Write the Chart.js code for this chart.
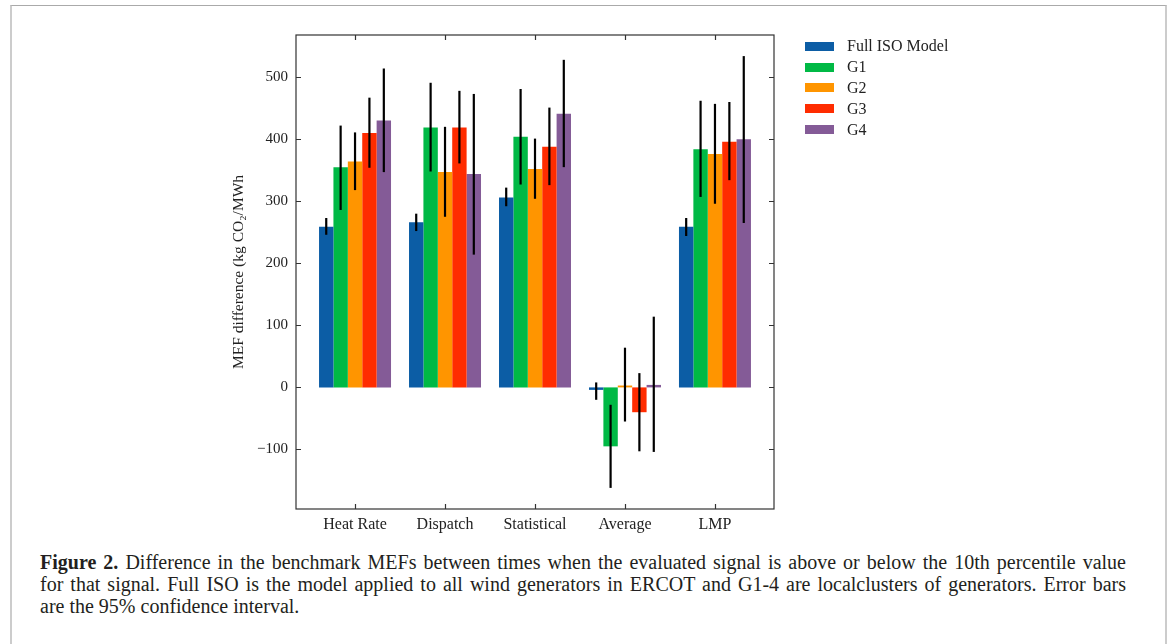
<!DOCTYPE html>
<html>
<head>
<meta charset="utf-8">
<script src="https://cdn.jsdelivr.net/npm/chart.js@4.4.1/dist/chart.umd.min.js"></script>
<style>
  html, body { margin: 0; padding: 0; background: #fff; }
  body { width: 1170px; height: 644px; position: relative; overflow: hidden; font-family: "Liberation Serif", serif; }
  .frame { position: absolute; left: 10px; top: 5px; width: 1153px; height: 700px;
           border-top: 1px solid #aaa; border-left: 2px solid #ccc; border-right: 2px solid #ccc; }
  #wrap { position: absolute; left: 0; top: 0; width: 1170px; height: 540px; }
  #legend { position: absolute; left: 805px; top: 36px; }
  .row { height: 20.8px; display: flex; align-items: center; font-size: 16px; color: #222; }
  .sw { width: 29px; height: 9px; margin-right: 13px; }
  #caption { position: absolute; left: 40px; top: 551px; width: 1086px; font-size: 20px; line-height: 22px; color: #231f20; }
  .j { text-align: justify; text-align-last: justify; }
</style>
</head>
<body>
<div class="frame"></div>
<div id="wrap"><canvas id="chart" width="1170" height="540"></canvas></div>
<div id="legend"></div>
<div id="caption">
  <div class="j"><b>Figure 2.</b> Difference in the benchmark MEFs between times when the evaluated signal is above or below the 10th percentile value</div>
  <div class="j">for that signal. Full ISO is the model applied to all wind generators in ERCOT and G1-4 are localclusters of generators. Error bars</div>
  <div>are the 95% confidence interval.</div>
</div>
<script>
'use strict';

// ── Data ─────────────────────────────────────────────────────────────────────
const categories   = ['Heat Rate', 'Dispatch', 'Statistical', 'Average', 'LMP'];
const seriesNames  = ['Full ISO Model', 'G1', 'G2', 'G3', 'G4'];
const seriesColors = ['#0C5DA5', '#00B945', '#FF9500', '#FF2C00', '#845B97'];

const fullIso   = [259, 266, 306,   -4, 259];
const fullIsoLo = [246, 252, 292,  -20, 244];
const fullIsoHi = [273, 280, 322,    8, 273];

const g1   = [355, 419, 404,  -95, 384];
const g1Lo = [286, 348, 327, -162, 307];
const g1Hi = [422, 491, 481,  -28, 462];

const g2   = [364, 347, 352,    3, 376];
const g2Lo = [318, 275, 304,  -55, 296];
const g2Hi = [411, 420, 401,   64, 457];

const g3   = [410, 419, 388,  -40, 396];
const g3Lo = [354, 361, 326, -103, 334];
const g3Hi = [467, 478, 451,   23, 460];

const g4   = [430, 344, 441,    4, 400];
const g4Lo = [347, 214, 355, -104, 265];
const g4Hi = [514, 473, 528,  114, 534];

const yTicks = [-100, 0, 100, 200, 300, 400, 500];

const values = [fullIso, g1, g2, g3, g4];
const lows   = [fullIsoLo, g1Lo, g2Lo, g3Lo, g4Lo];
const highs  = [fullIsoHi, g1Hi, g2Hi, g3Hi, g4Hi];

// ── Plugins ──────────────────────────────────────────────────────────────────
const errorBars = {
  id: 'errorBars',
  afterDatasetsDraw(chart) {
    const { ctx, scales: { y } } = chart;
    ctx.save();
    ctx.strokeStyle = '#000';
    ctx.lineWidth = 2.2;
    chart.data.datasets.forEach((ds, d) => {
      chart.getDatasetMeta(d).data.forEach((bar, i) => {
        ctx.beginPath();
        ctx.moveTo(bar.x, y.getPixelForValue(ds.errLo[i]));
        ctx.lineTo(bar.x, y.getPixelForValue(ds.errHi[i]));
        ctx.stroke();
      });
    });
    ctx.restore();
  }
};

// box round the axes, ticks pointing in on all four sides
const axesFrame = {
  id: 'axesFrame',
  afterDraw(chart) {
    const { ctx, chartArea: { left, right, top, bottom }, scales: { x, y } } = chart;
    const tl = 5;
    ctx.save();
    ctx.strokeStyle = '#333';
    ctx.lineWidth = 1.2;
    ctx.strokeRect(left, top, right - left, bottom - top);
    ctx.beginPath();
    y.ticks.forEach(t => {
      const py = Math.round(y.getPixelForValue(t.value)) + 0.5;
      ctx.moveTo(left, py);  ctx.lineTo(left + tl, py);
      ctx.moveTo(right, py); ctx.lineTo(right - tl, py);
    });
    x.ticks.forEach(t => {
      const px = Math.round(x.getPixelForValue(t.value)) + 0.5;
      ctx.moveTo(px, top);    ctx.lineTo(px, top + tl);
      ctx.moveTo(px, bottom); ctx.lineTo(px, bottom - tl);
    });
    ctx.stroke();
    ctx.restore();
  }
};

// ── Chart ────────────────────────────────────────────────────────────────────
const tickFont = { family: 'Liberation Serif', size: 16 };

new Chart(document.getElementById('chart'), {
  type: 'bar',
  data: {
    datasets: seriesNames.map((name, d) => ({
      label: name,
      data: values[d].map((v, i) => ({ x: i, y: v })),
      errLo: lows[d],
      errHi: highs[d],
      backgroundColor: seriesColors[d],
      borderWidth: 0,
      categoryPercentage: 0.8,
      barPercentage: 1.0,
    })),
  },
  options: {
    responsive: false,
    animation: false,
    devicePixelRatio: 1,
    layout: { padding: { left: 230, right: 396, top: 35, bottom: 0 } },
    plugins: { legend: { display: false }, tooltip: { enabled: false } },
    scales: {
      x: {
        type: 'linear', min: -0.656, max: 4.656, offset: false,
        grid: { display: false, drawTicks: false }, border: { display: false },
        afterBuildTicks: s => { s.ticks = categories.map((_, i) => ({ value: i })); },
        afterFit: s => { s.height = 31; },
        ticks: { callback: v => categories[v], color: '#222', font: tickFont, padding: 6, autoSkip: false, maxRotation: 0 },
      },
      y: {
        min: -196, max: 568,
        grid: { display: false, drawTicks: false }, border: { display: false },
        afterBuildTicks: s => { s.ticks = yTicks.map(v => ({ value: v })); },
        afterFit: s => { s.width = 66; },
        ticks: { callback: v => (v < 0 ? '\u2212' + Math.abs(v) : String(v)), color: '#222',
                 font: { family: 'Liberation Serif', size: 15 }, padding: 8 },
        title: { display: true, text: 'MEF difference (kg CO\u2082/MWh', color: '#222',
                 font: { family: 'Liberation Serif', size: 15.5 }, padding: 0 },
      },
    },
  },
  plugins: [errorBars, axesFrame],
});

// ── Legend ───────────────────────────────────────────────────────────────────
document.getElementById('legend').innerHTML = seriesNames.map((n, d) =>
  `<div class="row"><span class="sw" style="background:${seriesColors[d]}"></span>${n}</div>`).join('');
</script>
</body>
</html>
